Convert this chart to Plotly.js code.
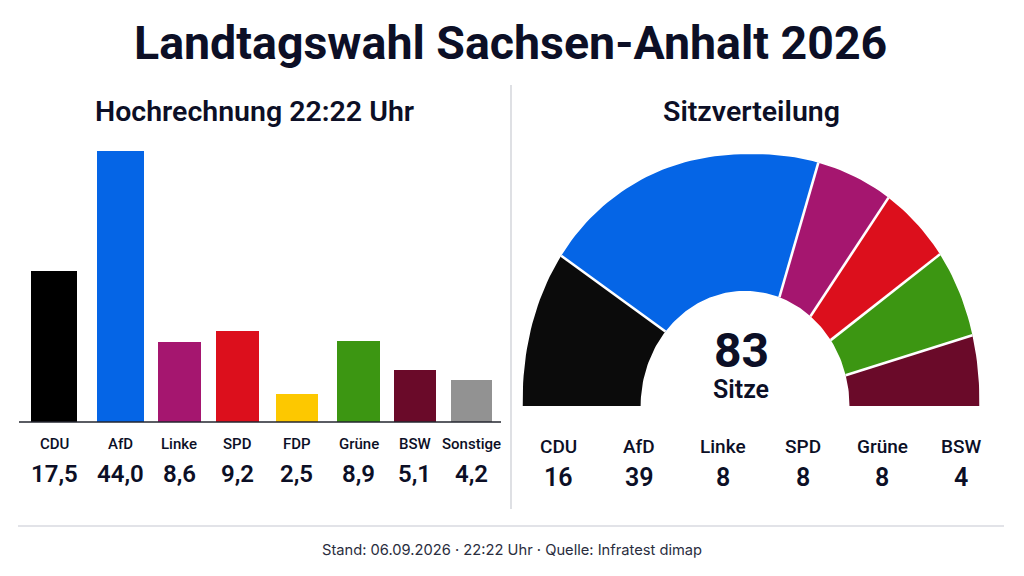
<!DOCTYPE html>
<html><head><meta charset="utf-8">
<script src="https://cdn.plot.ly/plotly-3.0.1.min.js"></script>
<style>html,body{margin:0;padding:0;background:#fff;overflow:hidden}</style>
</head><body><div id="chart" style="width:1024px;height:576px"></div>
<script>
// Data
const barParties = ["CDU","AfD","Linke","SPD","FDP","Grüne","BSW","Sonstige"];
const barHeights = [24.5,44.0,13.0,14.8,4.5,13.2,8.4,6.8];   // drawn heights as pictured
const barLabels = ["17,5","44,0","8,6","9,2","2,5","8,9","5,1","4,2"];
const barColors = ["#000000","#0565e6","#a5166f","#dc0f1c","#fdc800","#3c9612","#6a0a29","#929292"];
const seatParties = ["CDU","AfD","Linke","SPD","Grüne","BSW"];
const seatArcsOuter = [35.0,70.6,19.8,19.2,20.6,14.8];       // arc sizes along the outer rim, as pictured
const seatArcsInner = [40.3,68.9,19.6,16.3,19.4,15.5];       // arc sizes along the inner rim, as pictured
const seatLabels = ["16","39","8","8","8","4"];
const seatColors = ["#0b0b0b","#0565e6","#a5166f","#dc0f1c","#3c9612","#6a0a29"];

// Layout styling
const W=1024,H=576, ink="#0c0f26", F="Inter, sans-serif", C="Roboto, sans-serif";
const px=x=>x/W, py=y=>1-y/H;
const slot=58.9, first=60;
const barNudge=[-6,1.5,1.5,0.5,1,4,1.5,-0.5];
const barPx=[46,47,43,43,42,43,42,41];
const seatLabelX=[558,639,723,803,882,961];
const holeRatio=0.457, holeShift=-0.026, rimPower=2/2.15;

const rad=d=>d*Math.PI/180;
const outerPt=d=>{const c=Math.cos(rad(d)),s=Math.sin(rad(d));
  return [-Math.sign(c)*Math.pow(Math.abs(c),rimPower),Math.pow(Math.abs(s),rimPower)];};
const innerPt=d=>[holeShift-holeRatio*Math.cos(rad(d)),holeRatio*Math.sin(rad(d))];
const sweep=(a,b)=>{const out=[];const n=Math.max(2,Math.ceil((b-a)/1.5));for(let k=0;k<=n;k++)out.push(a+(b-a)*k/n);return out;};

const traces=[{
  type:"bar", x:barParties, y:barHeights, width:barPx.map(w=>w/slot),
  offset:barPx.map((w,i)=>(barNudge[i]-w/2)/slot),
  marker:{color:barColors,line:{width:0}}, hoverinfo:"x+y", showlegend:false
}];
let oc=0, ic=0;
const seps=[];
seatParties.forEach((p,i)=>{
  const o0=oc, o1=oc+seatArcsOuter[i], i0=ic, i1=ic+seatArcsInner[i];
  const pts=sweep(o0,o1).map(outerPt).concat(sweep(i0,i1).reverse().map(innerPt));
  pts.push(pts[0]);
  traces.push({type:"scatter",xaxis:"x2",yaxis:"y2",mode:"lines",fill:"toself",fillcolor:seatColors[i],
    x:pts.map(q=>q[0]),y:pts.map(q=>q[1]),line:{width:0,color:seatColors[i]},name:p,
    text:p+": "+seatLabels[i],hoverinfo:"text",showlegend:false});
  oc=o1; ic=i1;
  if(i<seatParties.length-1) seps.push([outerPt(oc),innerPt(ic)]);
});
seps.forEach(s=>traces.push({type:"scatter",xaxis:"x2",yaxis:"y2",mode:"lines",
  x:[s[0][0],s[1][0]],y:[s[0][1],s[1][1]],line:{color:"#fff",width:2.6},hoverinfo:"skip",showlegend:false}));

const ann=[];
const t=(text,x,y,size,font,weight,color)=>({text,xref:"paper",yref:"paper",x:px(x),y:py(y),xanchor:"center",yanchor:"middle",showarrow:false,
  font:{family:font,size,color:color||ink,weight:weight||700}});
ann.push(t("Landtagswahl Sachsen-Anhalt 2026",510.5,43,46.5,C,700));
ann.push(t("Hochrechnung 22:22 Uhr",254.5,111,28.5,C,600));
ann.push(t("Sitzverteilung",751.5,111,28.5,C,600));
ann.push(t("83",741,350,48,C,700));
ann.push(t("Sitze",741,389,25,C,600));
ann.push(t("Stand: 06.09.2026 · 22:22 Uhr · Quelle: Infratest dimap",511.5,550,14.7,F,400,"#2a2d3e"));
barParties.forEach((p,i)=>{
  const cx=first+i*slot+barNudge[i];
  ann.push(t(p,cx,444,15,C,500));
  ann.push(t(barLabels[i],cx,474,24,C,600));
});
seatParties.forEach((p,i)=>{
  ann.push(t(p,seatLabelX[i],446,19,C,500));
  ann.push(t(seatLabels[i],seatLabelX[i],477,25,C,600));
});

const layout={
  width:W,height:H,margin:{l:0,r:0,t:0,b:0},paper_bgcolor:"#fff",plot_bgcolor:"rgba(0,0,0,0)",
  font:{family:F,color:ink},showlegend:false,bargap:0,
  xaxis:{domain:[px(19),px(501)],type:"category",categoryorder:"array",categoryarray:barParties,
    range:[(19-first)/slot,(501-first)/slot],showticklabels:false,ticks:"",showgrid:false,zeroline:false,
    showline:false,fixedrange:true},
  yaxis:{domain:[py(422),py(151)],range:[0,44],visible:false,fixedrange:true},
  xaxis2:{domain:[px(522.5),px(979.5)],range:[-1,1],visible:false,fixedrange:true,anchor:"y2"},
  yaxis2:{domain:[py(406),py(154)],range:[0,1],visible:false,fixedrange:true,anchor:"x2"},
  shapes:[
    {type:"line",xref:"paper",yref:"paper",x0:px(19),x1:px(501),y0:py(422),y1:py(422),line:{color:"#23262f",width:1.5}},
    {type:"line",xref:"paper",yref:"paper",x0:px(511),x1:px(511),y0:py(85),y1:py(509),line:{color:"#c9cbd2",width:1.2}},
    {type:"line",xref:"paper",yref:"paper",x0:px(18),x1:px(1004),y0:py(526),y1:py(526),line:{color:"#d9dae0",width:1.5}}
  ],
  annotations:ann
};
Plotly.newPlot("chart",traces,layout,{displayModeBar:false,responsive:false});
</script></body></html>
